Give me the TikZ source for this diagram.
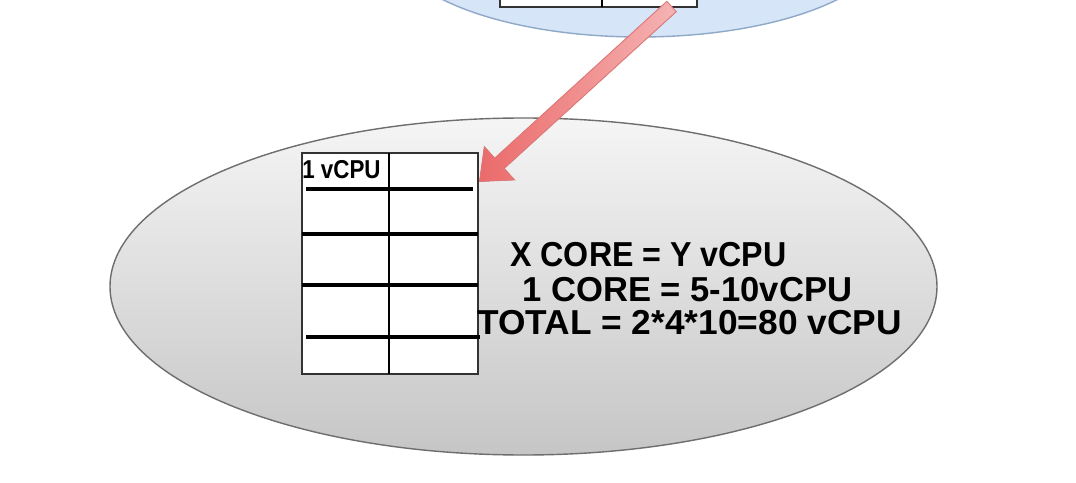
\documentclass[tikz,border=0pt]{standalone}
\usepackage{fontspec}
\setmainfont{Liberation Sans}
\usetikzlibrary{calc,shapes.geometric}
\definecolor{topfill}{HTML}{D6E5F7}
\definecolor{topedge}{HTML}{8FA9C9}
\definecolor{botedge}{HTML}{6E6E6E}
\definecolor{arrowhead}{HTML}{EB6A6A}
\definecolor{arrowtail}{HTML}{F5B3B3}
\definecolor{arrowedge}{HTML}{E07878}
\tikzset{
  cell/.style={draw=black!80, line width=0.6pt, fill=white, inner sep=0pt},
  thin rule/.style={draw=black, line width=0.7pt},
  thick rule/.style={draw=black, line width=2.3pt},
  big text/.style={font=\fontsize{19.7}{22}\selectfont\bfseries, inner sep=0pt, anchor=base west},
  small text/.style={font=\fontsize{13.4}{15}\selectfont\bfseries, inner sep=0pt, anchor=base west},
}
\begin{document}
\begin{tikzpicture}[x=0.02cm, y=-0.02cm]
\useasboundingbox (0,0) rectangle (1076,483);
\clip (0,0) rectangle (1076,483);
\fill[white] (0,0) rectangle (1076,483);

% top (blue) ellipse, mostly out of frame
\node[draw=topedge, fill=topfill, line width=0.8pt, shape=ellipse, minimum width=500*0.02cm, minimum height=194*0.02cm, inner sep=0pt] (topell) at (640,-60) {};
\node[cell, minimum width=197*0.02cm, minimum height=40*0.02cm] (toptable) at (598.5,-13) {};
\draw[thin rule] (602,-40) -- (602,7);

% bottom (gray) ellipse
\node[draw=botedge, line width=0.8pt, shape=ellipse, top color=gray!8, bottom color=gray!45, minimum width=827*0.02cm, minimum height=337*0.02cm, inner sep=0pt] (botell) at (523.5,286.5) {};

% bottom table
\node[cell, minimum width=176*0.02cm, minimum height=221*0.02cm] (tbl) at (390,263.5) {};
\draw[thin rule] (389,153) -- (389,374);
\draw[thick rule] (306,189) -- (473,189);
\draw[thick rule] (302,234) -- (478,234);
\draw[thick rule] (302,285) -- (478,285);
\draw[thick rule] (306,337) -- (480,337);
\node[small text] (vcpu) at (302,178) {\scalebox{0.95}[1.1]{1 vCPU}};

% texts
\node[big text] (l1) at (510,266) {\scalebox{0.93}[1]{X CORE = Y vCPU}};
\node[big text] (l2) at (522,301) {1 CORE = 5-10vCPU};
\node[big text] (l3) at (477,334) {\scalebox{1.02}[1]{TOTAL = 2*4*10=80 vCPU}};

% arrow from top table to bottom table
\coordinate (s) at ($(toptable.south east)+(-26,-1)$);
\coordinate (e) at ($(tbl.north east)+(1,29)$);
\coordinate (h) at ($(e)!0.54cm!(s)$);
\filldraw[draw=arrowedge, line width=0.5pt, left color=arrowhead, right color=arrowtail]
  ($(s)!0.14cm!90:(e)$) -- ($(h)!0.14cm!-90:(s)$) -- ($(h)!0.45cm!-90:(s)$) -- (e)
  -- ($(h)!0.45cm!90:(s)$) -- ($(h)!0.14cm!90:(s)$) -- ($(s)!0.14cm!-90:(e)$) -- cycle;
\end{tikzpicture}
\end{document}
